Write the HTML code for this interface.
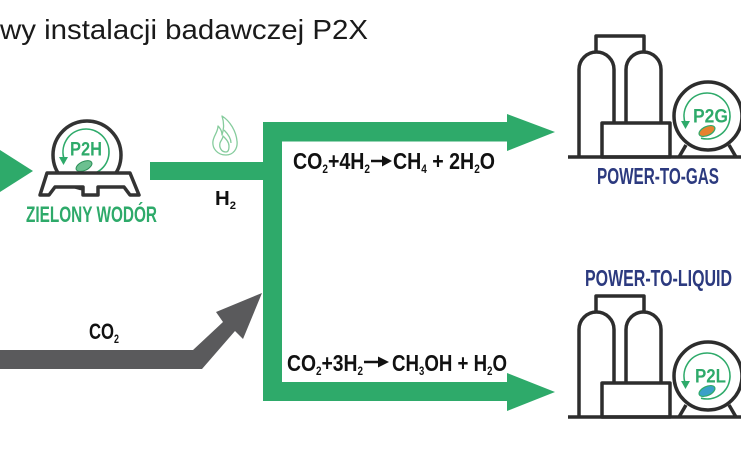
<!DOCTYPE html>
<html><head><meta charset="utf-8"><style>
html,body{margin:0;padding:0;background:#fff;}
svg{display:block;}
</style></head><body>
<svg width="741" height="468" viewBox="0 0 741 468" xmlns="http://www.w3.org/2000/svg">
<rect width="741" height="468" fill="#fff"/>

<!-- Title -->
<text x="0" y="39" font-family="'Liberation Sans', sans-serif" font-size="28" fill="#1a1a1a" textLength="368" lengthAdjust="spacingAndGlyphs">wy instalacji badawczej P2X</text>

<!-- Green flow shapes -->
<g fill="#2eaa6a">
  <polygon points="0,150 33,171 0,192"/>
  <rect x="150" y="162" width="132" height="18"/>
  <rect x="263" y="122" width="19" height="279"/>
  <rect x="263" y="122" width="246" height="19.5"/>
  <polygon points="507,114 555,132 507,151"/>
  <rect x="263" y="382" width="246" height="19"/>
  <polygon points="507,373 555,392 507,411"/>
</g>

<!-- Gray CO2 arrow -->
<polygon fill="#5a5a5c" points="0,350 193,350 223,322 216,312 262,293 243,339 235,331 202,369 0,369"/>

<!-- Flame -->
<g fill="none" stroke="#86cc9d" stroke-width="1.3" stroke-linejoin="round">
  <path d="M226,155 C217,155 212,148 213,141 C214,135 218,132 218,126 C221,129 222,132 222,135 C224,129 224,122 222,116 C230,121 236,131 237,141 C238,149 233,155 226,155 Z"/>
  <path d="M226,152 C221,152 219,147 220,143 C221,140 223,139 223,136 C226,139 229,142 229,146 C229,150 228,152 226,152 Z"/>
  <path d="M224,130 C228,134 231,138 231,143"/>
</g>

<!-- P2H icon -->
<circle cx="87" cy="155" r="34" fill="#fff" stroke="#333" stroke-width="3.5"/>
<path d="M64.4,159.9 A23 23 0 1 1 80,174.2" fill="none" stroke="#2eaa6a" stroke-width="1.6"/>
<polygon points="59,157 68,157 63.5,165" fill="#2eaa6a"/>
<ellipse cx="84" cy="166" rx="8.5" ry="4.5" transform="rotate(-25 84 166)" fill="#6cc090" stroke="#2a8f57" stroke-width="1"/>
<text x="70" y="155.5" font-family="'Liberation Sans Narrow','Liberation Sans', sans-serif" font-weight="bold" font-size="19" fill="#2eaa6a" textLength="32" lengthAdjust="spacingAndGlyphs">P2H</text>
<path d="M47,173 L130,173 L139,195 L130,195 L124,187 L98,187 L98,195 L83,195 L83,187 L55,187 L49,195 L40,195 Z" fill="#fff" stroke="#333" stroke-width="3.5" stroke-linejoin="round"/>
<text x="26" y="222" font-family="'Liberation Sans Narrow','Liberation Sans', sans-serif" font-weight="bold" font-size="22.5" fill="#2eaa6a" textLength="131" lengthAdjust="spacingAndGlyphs">ZIELONY WODÓR</text>

<!-- H2 label -->
<text x="215" y="205" font-family="'Liberation Sans Narrow','Liberation Sans', sans-serif" font-weight="bold" font-size="20" fill="#111" textLength="21" lengthAdjust="spacingAndGlyphs">H<tspan font-size="11" dy="4">2</tspan></text>

<!-- CO2 label -->
<text x="89" y="339" font-family="'Liberation Sans Narrow','Liberation Sans', sans-serif" font-weight="bold" font-size="22.5" fill="#111" textLength="30" lengthAdjust="spacingAndGlyphs">CO<tspan font-size="12" dy="4">2</tspan></text>

<!-- Formulas -->
<g font-family="'Liberation Sans Narrow','Liberation Sans', sans-serif" font-weight="bold" font-size="23.5" fill="#111">
  <text x="293" y="169" textLength="77" lengthAdjust="spacingAndGlyphs">CO<tspan font-size="12" dy="4">2</tspan><tspan dy="-4">+4H</tspan><tspan font-size="12" dy="4">2</tspan></text>
  <text x="393" y="169" textLength="102" lengthAdjust="spacingAndGlyphs">CH<tspan font-size="12" dy="4">4</tspan><tspan dy="-4"> + 2H</tspan><tspan font-size="12" dy="4">2</tspan><tspan dy="-4">O</tspan></text>
  <text x="287" y="371" textLength="76" lengthAdjust="spacingAndGlyphs">CO<tspan font-size="12" dy="4">2</tspan><tspan dy="-4">+3H</tspan><tspan font-size="12" dy="4">2</tspan></text>
  <text x="392" y="371" textLength="115" lengthAdjust="spacingAndGlyphs">CH<tspan font-size="12" dy="4">3</tspan><tspan dy="-4">OH + H</tspan><tspan font-size="12" dy="4">2</tspan><tspan dy="-4">O</tspan></text>
</g>
<!-- reaction arrows -->
<line x1="371" y1="161" x2="384" y2="161" stroke="#111" stroke-width="2.5"/>
<polygon points="382,155.5 392,161 382,166.5" fill="#111"/>
<line x1="364" y1="362" x2="380" y2="362" stroke="#111" stroke-width="2.5"/>
<polygon points="378,356.5 389,362 378,367.5" fill="#111"/>

<!-- P2G plant -->
<g fill="#fff" stroke="#2d2d2d" stroke-width="3.5" stroke-linejoin="round">
  <path d="M596,54 V36 H644 V54" fill="none"/>
  <path d="M579,157 V69.5 A17.5 17.5 0 0 1 614 69.5 V157"/>
  <path d="M626,157 V69.5 A17.5 17.5 0 0 1 661 69.5 V157"/>
  <rect x="602" y="123" width="68" height="34"/>
  <path d="M686,145 L679,157 M729,145 L736,157" fill="none"/>
  <circle cx="708" cy="116" r="34"/>
  <path d="M568,157 H741" fill="none"/>
</g>
<path d="M685.4,123.9 A23 23 0 1 1 701,138.2" fill="none" stroke="#2eaa6a" stroke-width="1.6"/>
<polygon points="681,121 690,121 685.5,129" fill="#2eaa6a"/>
<ellipse cx="707" cy="131" rx="8.5" ry="4.5" transform="rotate(-25 707 131)" fill="#e8822e" stroke="#2eaa6a" stroke-width="1.2"/>
<text x="693" y="122.5" font-family="'Liberation Sans Narrow','Liberation Sans', sans-serif" font-weight="bold" font-size="19" fill="#2eaa6a" textLength="35" lengthAdjust="spacingAndGlyphs">P2G</text>
<text x="597" y="184" font-family="'Liberation Sans Narrow','Liberation Sans', sans-serif" font-weight="bold" font-size="23.5" fill="#2c3a7f" textLength="122" lengthAdjust="spacingAndGlyphs">POWER-TO-GAS</text>

<!-- P2L plant -->
<g transform="translate(0,260)">
<g fill="#fff" stroke="#2d2d2d" stroke-width="3.5" stroke-linejoin="round">
  <path d="M596,54 V36 H644 V54" fill="none"/>
  <path d="M579,157 V69.5 A17.5 17.5 0 0 1 614 69.5 V157"/>
  <path d="M626,157 V69.5 A17.5 17.5 0 0 1 661 69.5 V157"/>
  <rect x="602" y="123" width="68" height="34"/>
  <path d="M686,145 L679,157 M729,145 L736,157" fill="none"/>
  <circle cx="708" cy="116" r="34"/>
  <path d="M568,157 H741" fill="none"/>
</g>
<path d="M685.4,123.9 A23 23 0 1 1 701,138.2" fill="none" stroke="#2eaa6a" stroke-width="1.6"/>
<polygon points="681,121 690,121 685.5,129" fill="#2eaa6a"/>
<ellipse cx="707" cy="131" rx="8.5" ry="4.5" transform="rotate(-25 707 131)" fill="#3aa0c8" stroke="#2eaa6a" stroke-width="1.2"/>
<text x="695" y="122.5" font-family="'Liberation Sans Narrow','Liberation Sans', sans-serif" font-weight="bold" font-size="19" fill="#2eaa6a" textLength="31" lengthAdjust="spacingAndGlyphs">P2L</text>
</g>
<text x="585" y="286" font-family="'Liberation Sans Narrow','Liberation Sans', sans-serif" font-weight="bold" font-size="23.5" fill="#2c3a7f" textLength="147" lengthAdjust="spacingAndGlyphs">POWER-TO-LIQUID</text>

</svg>
</body></html>
